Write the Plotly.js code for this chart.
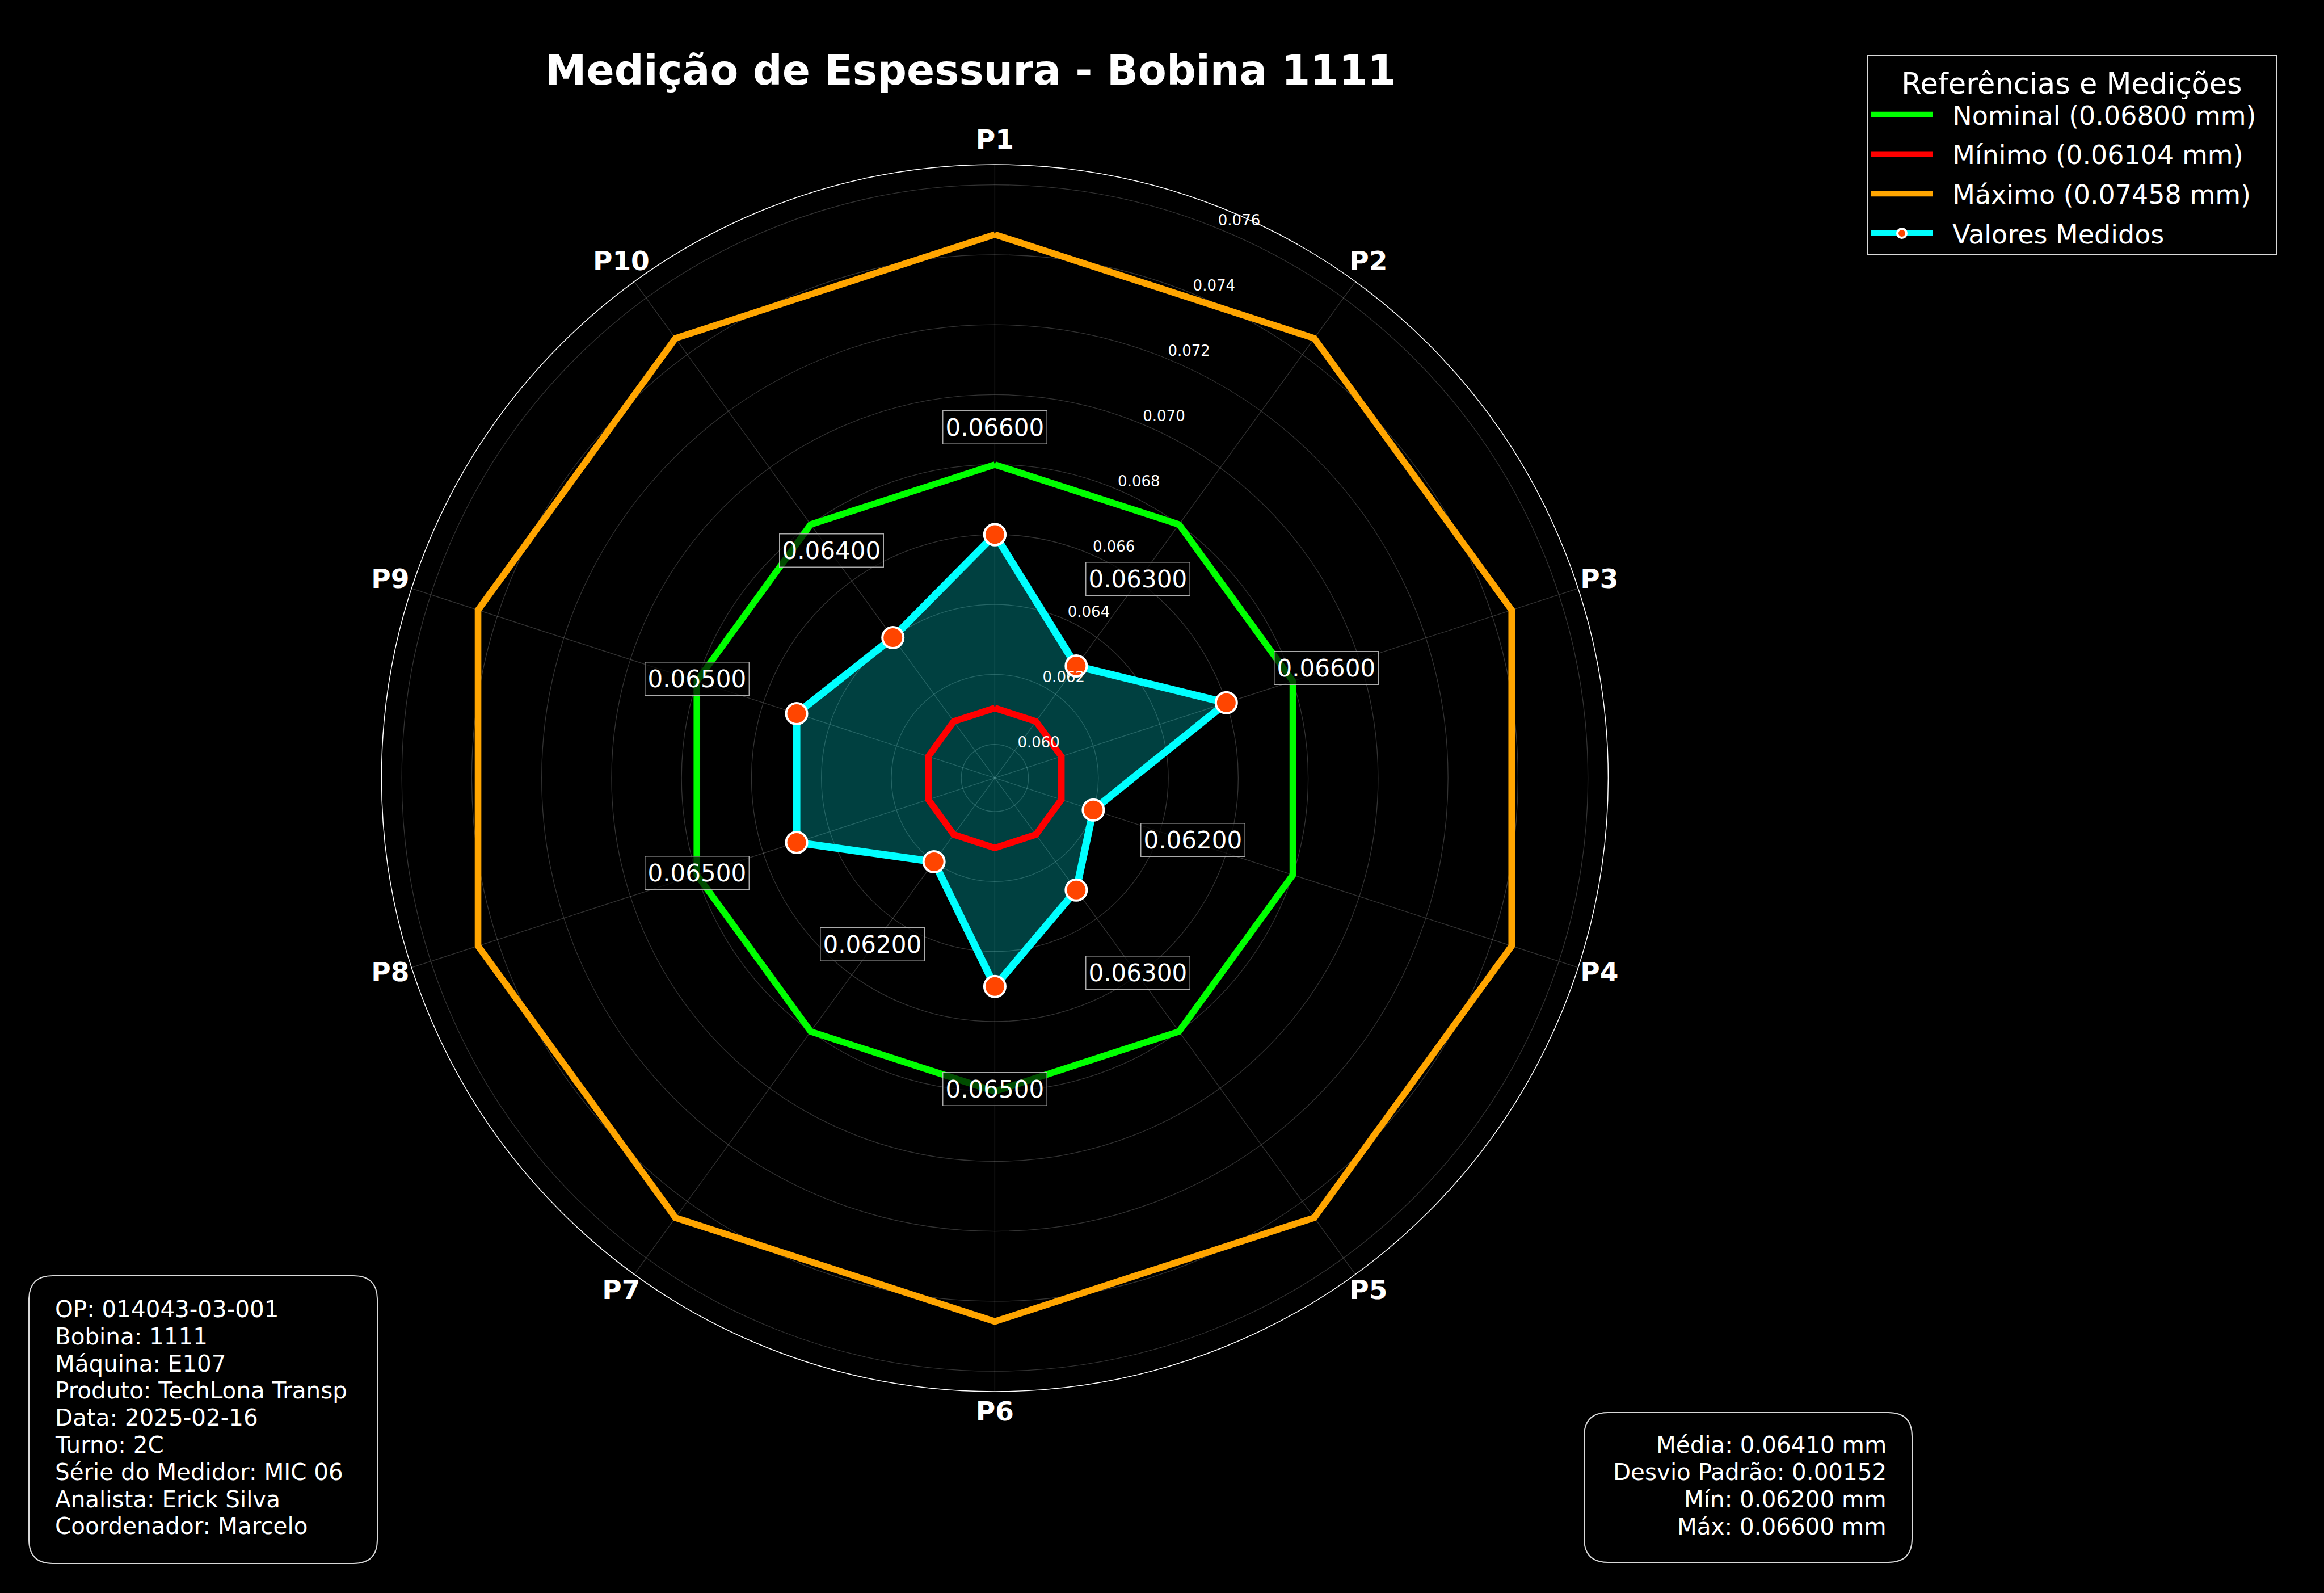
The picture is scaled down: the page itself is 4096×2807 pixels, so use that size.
<!DOCTYPE html>
<html>
<head>
<meta charset="utf-8">
<script src="https://cdn.plot.ly/plotly-3.0.1.min.js"></script>
<style>
html,body{margin:0;padding:0;background:#000;}
#chart{width:4096px;height:2807px;}
</style>
</head>
<body>
<div id="chart"></div>
<script>
// ---- data ----
const categories = ['P1','P2','P3','P4','P5','P6','P7','P8','P9','P10'];
const measuredValues = [0.066, 0.063, 0.066, 0.062, 0.063, 0.065, 0.062, 0.065, 0.065, 0.064];
const nominalValues = [0.068, 0.068, 0.068, 0.068, 0.068, 0.068, 0.068, 0.068, 0.068, 0.068];
const minimumValues = [0.06104, 0.06104, 0.06104, 0.06104, 0.06104, 0.06104, 0.06104, 0.06104, 0.06104, 0.06104];
const maximumValues = [0.07458, 0.07458, 0.07458, 0.07458, 0.07458, 0.07458, 0.07458, 0.07458, 0.07458, 0.07458];
const radialTicks = [0.060, 0.062, 0.064, 0.066, 0.068, 0.070, 0.072, 0.074, 0.076];
const radialRange = [0.05904, 0.07658];
const labelOffset = 0.003;
const infoLines = [
  'OP: 014043-03-001',
  'Bobina: 1111',
  'Máquina: E107',
  'Produto: TechLona Transp',
  'Data: 2025-02-16',
  'Turno: 2C',
  'Série do Medidor: MIC 06',
  'Analista: Erick Silva',
  'Coordenador: Marcelo'
];

// ---- helpers ----
const closeLoop = a => a.concat([a[0]]);
const FONT = 'DejaVu Sans, Liberation Sans, sans-serif';
const n = measuredValues.length;
const mean = measuredValues.reduce((s, v) => s + v, 0) / n;
const std = Math.sqrt(measuredValues.reduce((s, v) => s + (v - mean) * (v - mean), 0) / (n - 1));
const vMin = Math.min(...measuredValues);
const vMax = Math.max(...measuredValues);
const statsLines = [
  'Média: ' + mean.toFixed(5) + ' mm',
  'Desvio Padrão: ' + std.toFixed(5),
  'Mín: ' + vMin.toFixed(5) + ' mm',
  'Máx: ' + vMax.toFixed(5) + ' mm'
];
const span = radialRange[1] - radialRange[0];
const tickLabelShift = span * 0.016;          // radial tick labels sit a little outward (matplotlib style)
const labelScale = 1.1;                       // label disc is 10% larger than the data disc
const labelRange = [radialRange[0] - tickLabelShift, radialRange[0] - tickLabelShift + span * labelScale];
const categoryLabelRadius = radialRange[0] - tickLabelShift + span * 1.0364;
const NB = '\u00a0\u00a0';
const thetaC = closeLoop(categories);

const traces = [
  {
    type: 'scatterpolar', subplot: 'polar', r: closeLoop(measuredValues), theta: thetaC,
    mode: 'lines', line: {width: 0, color: 'rgba(0,0,0,0)'},
    fill: 'toself', fillcolor: 'rgba(0,255,255,0.25)',
    showlegend: false, hoverinfo: 'skip'
  },
  {
    type: 'scatterpolar', subplot: 'polar', r: closeLoop(nominalValues), theta: thetaC,
    mode: 'lines', line: {color: '#00ff00', width: 11.6},
    name: NB + 'Nominal (' + nominalValues[0].toFixed(5) + ' mm)' + NB, legendgroup: 'g1'
  },
  {
    type: 'scatterpolar', subplot: 'polar', r: closeLoop(minimumValues), theta: thetaC,
    mode: 'lines', line: {color: '#ff0000', width: 11.6},
    name: NB + 'Mínimo (' + minimumValues[0].toFixed(5) + ' mm)', legendgroup: 'g2'
  },
  {
    type: 'scatterpolar', subplot: 'polar', r: closeLoop(maximumValues), theta: thetaC,
    mode: 'lines', line: {color: '#ffa500', width: 11.6},
    name: NB + 'Máximo (' + maximumValues[0].toFixed(5) + ' mm)', legendgroup: 'g3'
  },
  {
    type: 'scatterpolar', subplot: 'polar', r: closeLoop(measuredValues), theta: thetaC,
    mode: 'lines+markers', line: {color: '#00ffff', width: 13},
    marker: {size: 37, color: '#ff4500', line: {color: '#ffffff', width: 4}},
    name: NB + 'Valores Medidos', legendgroup: 'g4'
  },
  {
    type: 'scatterpolar', subplot: 'polar', r: measuredValues.map(v => v + labelOffset), theta: categories,
    mode: 'text', text: measuredValues.map(v => v.toFixed(5)),
    textposition: 'middle center',
    textfont: {family: FONT, size: 42, color: 'rgba(0,0,0,0)'},
    showlegend: false, hoverinfo: 'skip'
  },
  // category names, on the slightly larger label disc
  {
    type: 'scatterpolar', subplot: 'polar2', r: categories.map(() => categoryLabelRadius), theta: categories,
    mode: 'text', text: categories, textposition: 'middle center', cliponaxis: false,
    textfont: {family: FONT, size: 47, color: '#ffffff', weight: 'bold'},
    showlegend: false, hoverinfo: 'skip'
  }
];

function roundRect(x0, y0, x1, y1, rx, ry) {
  return 'M' + (x0 + rx) + ',' + y1 +
    ' L' + (x1 - rx) + ',' + y1 + ' Q' + x1 + ',' + y1 + ' ' + x1 + ',' + (y1 - ry) +
    ' L' + x1 + ',' + (y0 + ry) + ' Q' + x1 + ',' + y0 + ' ' + (x1 - rx) + ',' + y0 +
    ' L' + (x0 + rx) + ',' + y0 + ' Q' + x0 + ',' + y0 + ' ' + x0 + ',' + (y0 + ry) +
    ' L' + x0 + ',' + (y1 - ry) + ' Q' + x0 + ',' + y1 + ' ' + (x0 + rx) + ',' + y1 + ' Z';
}
const W = 4096, H = 2807;
const px = v => v / W;
const py = v => 1 - v / H;
const rcx = 42 / W, rcy = 42 / H;

const shapes = [
  {type: 'path', xref: 'paper', yref: 'paper', layer: 'above',
   path: roundRect(px(51), py(2755), px(665), py(2248), rcx, rcy),
   fillcolor: '#000000', line: {color: '#d9d9d9', width: 2}},
  {type: 'path', xref: 'paper', yref: 'paper', layer: 'above',
   path: roundRect(px(2792), py(2753), px(3370), py(2489), rcx, rcy),
   fillcolor: '#000000', line: {color: '#d9d9d9', width: 2}}
];

const baseAnnotations = [];
infoLines.forEach((t, i) => {
  baseAnnotations.push({
    xref: 'paper', yref: 'paper', x: px(95), y: py(2307 + i * 47.8),
    xanchor: 'left', yanchor: 'middle', showarrow: false, align: 'left',
    text: t, font: {family: FONT, size: 40.4, color: '#ffffff'}
  });
});
statsLines.forEach((t, i) => {
  baseAnnotations.push({
    xref: 'paper', yref: 'paper', x: px(3327), y: py(2546 + i * 48),
    xanchor: 'right', yanchor: 'middle', showarrow: false, align: 'right',
    text: t, font: {family: FONT, size: 40.4, color: '#ffffff'}
  });
});

const gridCol = 'rgba(255,255,255,0.2)';
const cxP = 1753.4, cyP = 1370.9, R = 1081;
const polarDomain = {x: [(cxP - R) / W, (cxP + R) / W], y: [(H - cyP - R) / H, (H - cyP + R) / H]};
const RL = R * labelScale;
const labelDomain = {x: [(cxP - RL) / W, (cxP + RL) / W], y: [(H - cyP - RL) / H, (H - cyP + RL) / H]};
const layout = {
  width: W, height: H,
  paper_bgcolor: '#000000', plot_bgcolor: '#000000',
  margin: {l: 0, r: 0, t: 0, b: 0, pad: 0},
  font: {family: FONT, color: '#ffffff'},
  title: {
    text: 'Medição de Espessura - Bobina 1111',
    font: {family: FONT, size: 72.6, color: '#ffffff', weight: 'bold'},
    x: 1711 / W, xanchor: 'center', xref: 'paper',
    y: py(124), yanchor: 'middle', yref: 'paper'
  },
  polar: {
    domain: polarDomain,
    bgcolor: '#000000',
    angularaxis: {
      type: 'category', categoryarray: categories,
      rotation: 90, direction: 'clockwise',
      showgrid: true, gridcolor: gridCol, gridwidth: 1.3,
      showline: true, linecolor: '#ffffff', linewidth: 1.5,
      ticks: '', showticklabels: false
    },
    radialaxis: {
      range: radialRange, tickvals: radialTicks,
      angle: 67.5, showline: false, ticks: '', showticklabels: false,
      showgrid: true, gridcolor: gridCol, gridwidth: 1.3
    }
  },
  // label layer on top: same centre, scaled disc, radial tick labels + category names
  polar2: {
    domain: labelDomain,
    bgcolor: 'rgba(0,0,0,0)',
    angularaxis: {
      type: 'category', categoryarray: categories, rotation: 90, direction: 'clockwise',
      visible: false
    },
    radialaxis: {
      range: labelRange,
      tickvals: radialTicks, tickformat: '.3f',
      angle: 69, side: 'clockwise', tickangle: 69,
      showline: false, ticks: '', showgrid: false,
      tickfont: {family: FONT, size: 26, color: '#ffffff'}
    }
  },
  showlegend: true,
  legend: {
    x: 3290 / W, y: py(97), xanchor: 'left', yanchor: 'top',
    bgcolor: '#000000', bordercolor: '#d9d9d9', borderwidth: 2,
    font: {family: FONT, size: 46, color: '#ffffff'},
    title: {text: 'Referências e Medições', side: 'top center',
            font: {family: FONT, size: 51, color: '#ffffff'}},
    itemwidth: 110, tracegroupgap: 7, itemclick: false
  },
  shapes: shapes,
  annotations: baseAnnotations
};

const gd = document.getElementById('chart');
Plotly.newPlot(gd, traces, layout, {staticPlot: true}).then(() => {
  const box = gd.getBoundingClientRect();
  const labels = measuredValues.map(v => v.toFixed(5));
  const nodes = Array.from(gd.querySelectorAll('.textpoint text'))
    .filter(nd => labels.indexOf(nd.textContent) >= 0);
  const extra = [];
  nodes.forEach(node => {
    const b = node.getBoundingClientRect();
    const cx = (b.left + b.right) / 2 - box.left;
    const cy = (b.top + b.bottom) / 2 - box.top;
    extra.push({
      xref: 'paper', yref: 'paper', x: cx / W, y: 1 - cy / H,
      xanchor: 'center', yanchor: 'middle', showarrow: false,
      text: node.textContent,
      font: {family: FONT, size: 42, color: '#ffffff'},
      bgcolor: 'rgba(0,0,0,0.7)', bordercolor: 'rgba(200,200,200,0.85)',
      borderwidth: 1.5, borderpad: 4
    });
  });
  return Plotly.relayout(gd, {annotations: baseAnnotations.concat(extra)});
});
</script>
</body>
</html>
